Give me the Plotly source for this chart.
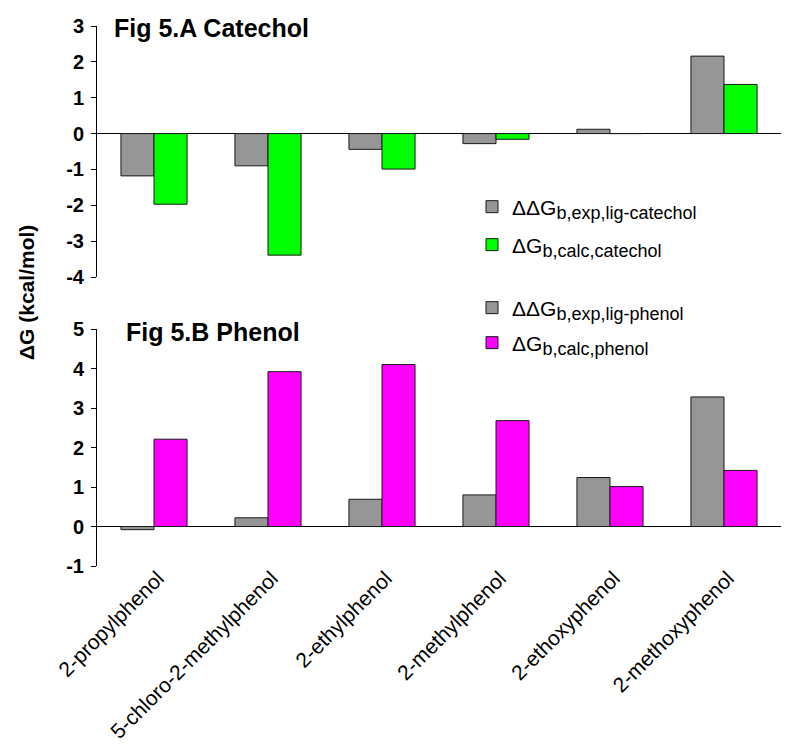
import plotly.graph_objects as go

categories = ["2-propylphenol", "5-chloro-2-methylphenol", "2-ethylphenol",
              "2-methylphenol", "2-ethoxyphenol", "2-methoxyphenol"]

# Fig 5.A Catechol
catechol_exp = [-1.18, -0.90, -0.44, -0.28, 0.12, 2.16]
catechol_calc = [-1.97, -3.39, -0.99, -0.16, 0.0, 1.37]

# Fig 5.B Phenol
phenol_exp = [-0.08, 0.22, 0.69, 0.80, 1.24, 3.28]
phenol_calc = [2.21, 3.92, 4.10, 2.68, 1.01, 1.42]

top_ticks = [3, 2, 1, 0, -1, -2, -3, -4]
top_tick_labels = ["3", "2", "1", "0", "-1", "-2", "-3", "-4"]
bottom_ticks = [5, 4, 3, 2, 1, 0, -1]
bottom_tick_labels = ["5", "4", "3", "2", "1", "0", "-1"]

FONT = "Liberation Sans, Arial, sans-serif"
GRAY = "#969696"
GREEN = "#00FF00"
MAGENTA = "#FF00FF"
EDGE = dict(color="#1a1a1a", width=1)


def sub(main, s):
    return f'{main}<sub><span style="font-size:18px">{s}</span></sub>'


fig = go.Figure()

fig.add_trace(go.Bar(x=categories, y=catechol_exp, marker=dict(color=GRAY, line=EDGE),
                     name=sub("ΔΔG", "b,exp,lig-catechol"), xaxis="x", yaxis="y",
                     legend="legend", showlegend=True))
fig.add_trace(go.Bar(x=categories, y=catechol_calc, marker=dict(color=GREEN, line=EDGE),
                     name=sub("ΔG", "b,calc,catechol"), xaxis="x", yaxis="y",
                     legend="legend2", showlegend=True))
fig.add_trace(go.Bar(x=categories, y=phenol_exp, marker=dict(color=GRAY, line=EDGE),
                     name=sub("ΔΔG", "b,exp,lig-phenol"), xaxis="x2", yaxis="y2",
                     legend="legend3", showlegend=True))
fig.add_trace(go.Bar(x=categories, y=phenol_calc, marker=dict(color=MAGENTA, line=EDGE),
                     name=sub("ΔG", "b,calc,phenol"), xaxis="x2", yaxis="y2",
                     legend="legend4", showlegend=True))

# page body has an 8px margin, so the figure starts at page (8, 8)
OFF = 8
W, H = 800 - OFF, 754 - OFF
PL, PR, PT, PB = 97, 781, 26, 566  # plot area in page pixels
L, R, T, B = PL - OFF, 800 - PR, PT - OFF, 754 - PB
PW = PR - PL
PH = PB - PT


def py(pix):
    return (PB - pix) / PH


def px(pix):
    return (pix - PL) / PW


yaxis_common = dict(showgrid=False, zeroline=True, zerolinecolor="black", zerolinewidth=1,
                    showline=True, linecolor="black", linewidth=1,
                    ticks="outside", ticklen=5, tickcolor="black", tickwidth=1,
                    tickfont=dict(family=FONT, size=20, color="black", weight="bold"),
                    ticklabelstandoff=3, automargin=False)

legend_common = dict(font=dict(family=FONT, size=21, color="black"),
                     bgcolor="rgba(0,0,0,0)", borderwidth=0,
                     xanchor="left", yanchor="middle", itemwidth=30)

fig.update_layout(
    width=W, height=H,
    margin=dict(l=L, r=R, t=T, b=B, autoexpand=False),
    paper_bgcolor="white", plot_bgcolor="white",
    showlegend=True,
    barmode="group", bargap=0.42, bargroupgap=0.0,
    font=dict(family=FONT, color="black"),
    xaxis=dict(domain=[0, 1], anchor="y", showticklabels=False, ticks="",
               showline=False, showgrid=False, zeroline=False, matches="x2",
               automargin=False),
    yaxis=dict(domain=[py(277), py(26)], range=[-4, 3], tickvals=top_ticks,
               ticktext=top_tick_labels, **yaxis_common),
    xaxis2=dict(domain=[0, 1], anchor="y2", showline=False, showgrid=False, zeroline=False,
                ticks="", tickangle=-45, automargin=False,
                ticklabelstandoff=-5, ticklabelshift=4,
                tickfont=dict(family=FONT, size=21, color="black")),
    yaxis2=dict(domain=[0, py(329)], range=[-1, 5], tickvals=bottom_ticks,
                ticktext=bottom_tick_labels, **yaxis_common),
    legend=dict(x=px(472), y=py(207), **legend_common),
    legend2=dict(x=px(472), y=py(245), **legend_common),
    legend3=dict(x=px(472), y=py(308), **legend_common),
    legend4=dict(x=px(472), y=py(343), **legend_common),
)

fig.add_annotation(text="Fig 5.A Catechol", xref="paper", yref="paper",
                   x=px(112), y=py(28), xanchor="left", yanchor="middle", showarrow=False,
                   font=dict(family=FONT, size=25, color="black", weight="bold"))
fig.add_annotation(text="Fig 5.B Phenol", xref="paper", yref="paper",
                   x=px(124), y=py(332), xanchor="left", yanchor="middle", showarrow=False,
                   font=dict(family=FONT, size=25, color="black", weight="bold"))
fig.add_annotation(text="ΔG (kcal/mol)", xref="paper", yref="paper",
                   x=px(26), y=py(293), xanchor="center", yanchor="middle", showarrow=False,
                   textangle=-90,
                   font=dict(family=FONT, size=21, color="black", weight="bold"))

fig.write_html("out.html")
